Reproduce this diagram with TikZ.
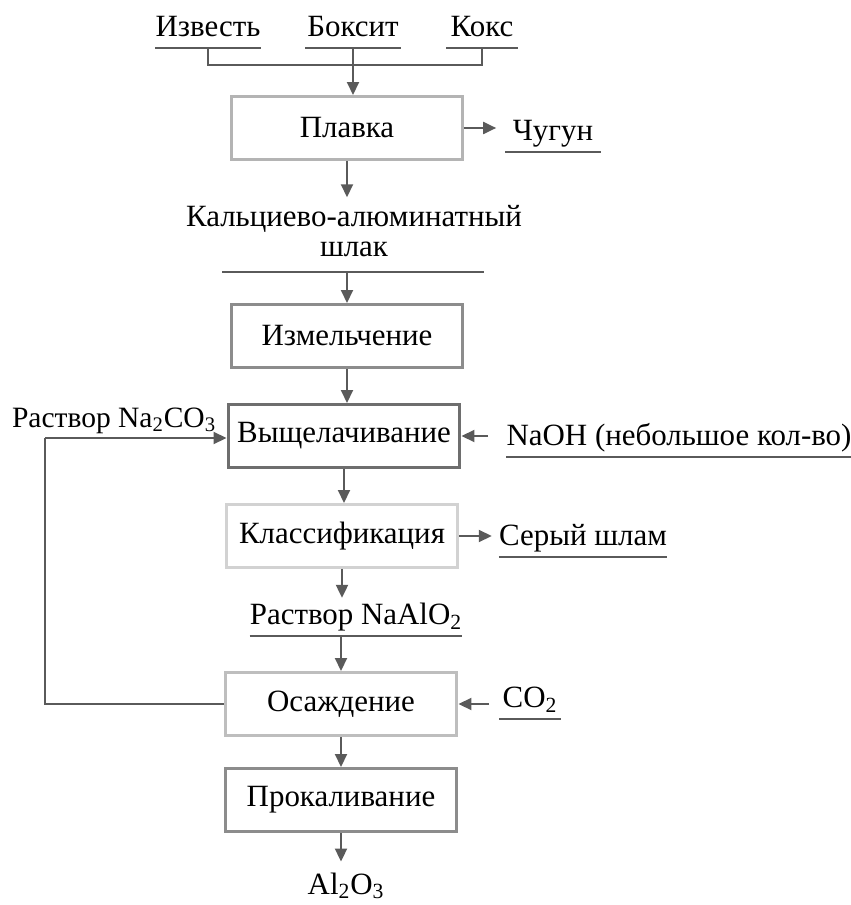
\documentclass[tikz,border=0pt]{standalone}
\usepackage{fontspec}
\setmainfont{Liberation Serif}
\usetikzlibrary{arrows.meta}

\definecolor{linegray}{HTML}{5A5A5A}
\definecolor{edgeA}{HTML}{B4B4B4}
\definecolor{edgeB}{HTML}{8C8C8C}
\definecolor{edgeC}{HTML}{6E6E6E}
\definecolor{edgeD}{HTML}{D2D2D2}
\definecolor{edgeE}{HTML}{BEBEBE}

\begin{document}
\begin{tikzpicture}[x=0.02cm,y=-0.02cm,
  stage/.style={draw, line width=0.06cm, minimum width=4.64cm, minimum height=1.26cm, inner sep=0pt, font=\fontsize{17.6pt}{20pt}\selectfont},
  flow/.style={draw=linegray, line width=0.04cm, -{Triangle[length=0.26cm,width=0.24cm]}},
  wire/.style={draw=linegray, line width=0.04cm},
  feed/.style={anchor=south, inner sep=0pt, text depth=0.22cm, font=\fontsize{17.6pt}{20pt}\selectfont},
  txt/.style={inner sep=0pt, font=\fontsize{17.6pt}{17pt}\selectfont}]

\useasboundingbox (0,0) rectangle (850,905);

\node[feed, minimum width=1.56cm] (izv) at (208,48) {Известь};
\node[feed, minimum width=1.90cm] (boks) at (353,48) {Боксит};
\node[feed, minimum width=1.42cm] (koks) at (482,48) {Кокс};

\node[stage, draw=edgeA, minimum width=4.62cm] (plavka) at (347,128) {Плавка};
\node[feed, minimum width=1.90cm] (chugun) at (553,152) {Чугун};

\node[txt, align=center, anchor=south, text depth=0.3cm] (shlak) at (354,272) {Кальциево-алюминатный\\шлак};

\node[stage, draw=edgeB] (izm) at (347,336) {Измельчение};
\node[stage, draw=edgeC] (vysh) at (344,436) {Выщелачивание};
\node[feed, minimum width=6.64cm] (naoh) at (679,457) {NaOH (небольшое кол-во)};
\node[txt, anchor=base, font=\fontsize{16.8pt}{17pt}\selectfont] (soda) at (114,427) {Раствор Na\textsubscript{2}CO\textsubscript{3}};

\node[stage, draw=edgeD] (klass) at (342,536) {Классификация};
\node[feed, minimum width=3.34cm] (shlam) at (583,557) {Серый шлам};

\node[feed, minimum width=4.14cm] (alum) at (356,636) {Раствор NaAlO\textsubscript{2}};

\node[stage, draw=edgeE] (osazh) at (341,704) {Осаждение};
\node[feed, minimum width=1.22cm] (co2) at (530,719) {CO\textsubscript{2}};

\node[stage, draw=edgeB] (prok) at (341,800) {Прокаливание};
\node[txt] (prod) at (346,886) {Al\textsubscript{2}O\textsubscript{3}};

\coordinate (loop) at (45,438);

\foreach \n in {izv,boks,koks,chugun,naoh,shlam,alum,co2}
  \draw[wire] (\n.south west) -- (\n.south east);
\draw[wire] (shlak.south) ++(-132,0) -- ++(262,0);

\draw[wire] (izv.south) -- ++(0,17) -| (koks.south);
\draw[flow] (boks.south) -- (boks.south |- plavka.north);
\draw[flow] (plavka.east) -- ([xshift=-0.18cm]plavka.east -| chugun.west);
\draw[flow] (plavka.south) -- ([yshift=0.16cm]plavka.south |- shlak.north);
\draw[flow] (izm.north |- shlak.south) -- (izm.north);
\draw[flow] (izm.south) -- (izm.south |- vysh.north);
\draw[flow] ([xshift=-0.36cm]vysh.east -| naoh.west) -- (vysh.east);
\draw[flow] (vysh.south) -- (vysh.south |- klass.north);
\draw[flow] (klass.east) -- ([xshift=-0.14cm]klass.east -| shlam.west);
\draw[flow] (klass.south) -- ([yshift=0.1cm]klass.south |- alum.north);
\draw[flow] (osazh.north |- alum.south) -- (osazh.north);
\draw[flow] ([xshift=-0.2cm]osazh.east -| co2.west) -- (osazh.east);
\draw[wire] (osazh.west) -| (loop);
\draw[flow] (loop) -- (loop -| vysh.west);
\draw[flow] (osazh.south) -- (osazh.south |- prok.north);
\draw[flow] (prok.south) -- ([yshift=0.22cm]prok.south |- prod.north);

\end{tikzpicture}
\end{document}
